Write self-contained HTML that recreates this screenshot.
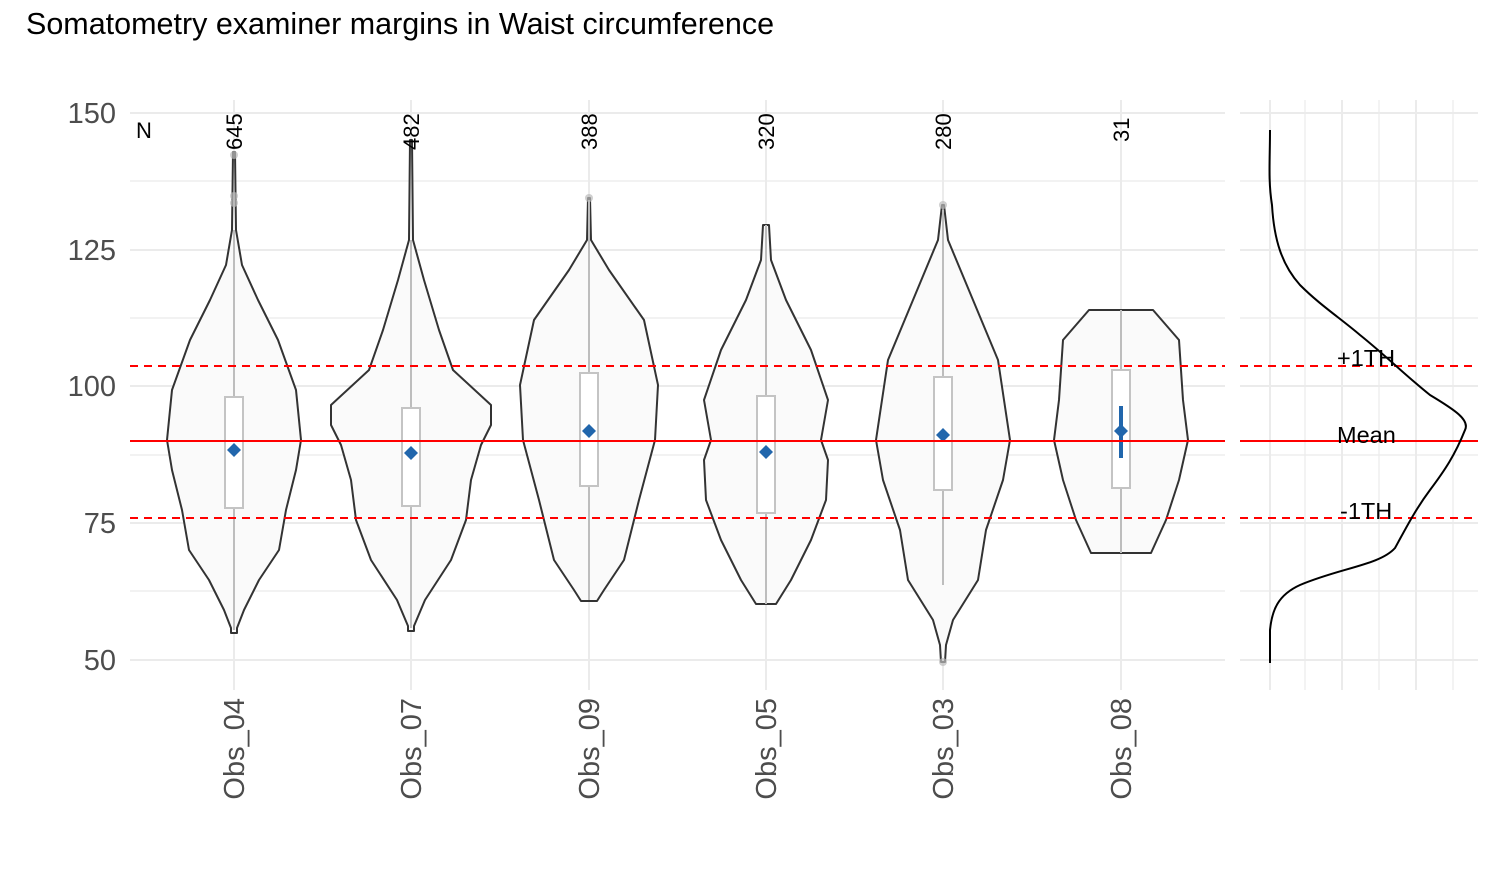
<!DOCTYPE html><html><head><style>body{margin:0;background:#fff}svg{display:block;font-family:"Liberation Sans",Arial,sans-serif}</style></head><body>
<svg width="1504" height="874" xmlns="http://www.w3.org/2000/svg">
<rect width="1504" height="874" fill="#fff"/>
<text x="26" y="34" font-size="30.5" fill="#000">Somatometry examiner margins in Waist circumference</text>
<g stroke="#ebebeb" stroke-width="1.2">
<line x1="130" x2="1225" y1="181" y2="181"/><line x1="130" x2="1225" y1="318" y2="318"/><line x1="130" x2="1225" y1="455" y2="455"/><line x1="130" x2="1225" y1="591" y2="591"/>
<line x1="1240" x2="1478" y1="181" y2="181"/><line x1="1240" x2="1478" y1="318" y2="318"/><line x1="1240" x2="1478" y1="455" y2="455"/><line x1="1240" x2="1478" y1="591" y2="591"/>
</g>
<g stroke="#ebebeb" stroke-width="2">
<line x1="130" x2="1225" y1="113" y2="113"/><line x1="130" x2="1225" y1="250" y2="250"/><line x1="130" x2="1225" y1="386" y2="386"/><line x1="130" x2="1225" y1="523" y2="523"/><line x1="130" x2="1225" y1="660" y2="660"/>
<line x1="1240" x2="1478" y1="113" y2="113"/><line x1="1240" x2="1478" y1="250" y2="250"/><line x1="1240" x2="1478" y1="386" y2="386"/><line x1="1240" x2="1478" y1="523" y2="523"/><line x1="1240" x2="1478" y1="660" y2="660"/>
<line x1="234" x2="234" y1="100" y2="690"/><line x1="411" x2="411" y1="100" y2="690"/><line x1="589" x2="589" y1="100" y2="690"/><line x1="766" x2="766" y1="100" y2="690"/><line x1="943" x2="943" y1="100" y2="690"/><line x1="1121" x2="1121" y1="100" y2="690"/>
<line x1="1270" x2="1270" y1="100" y2="690"/><line x1="1342" x2="1342" y1="100" y2="690"/><line x1="1416" x2="1416" y1="100" y2="690"/>
</g>
<g stroke="#ebebeb" stroke-width="1.2"><line x1="1305" x2="1305" y1="100" y2="690"/><line x1="1379" x2="1379" y1="100" y2="690"/><line x1="1453" x2="1453" y1="100" y2="690"/></g>
<g font-size="29" fill="#4d4d4d" text-anchor="end">
<text x="116" y="123">150</text><text x="116" y="260">125</text><text x="116" y="396">100</text><text x="116" y="533">75</text><text x="116" y="670">50</text>
</g>
<g fill="#fafafa" stroke="#333" stroke-width="2" stroke-linejoin="round">
<polygon points="233,152 232,230 226,265 210,300 190,340 172,390 167,440 172,470 182,510 189,550 209,580 224,610 231,628 231,633 237,633 237,628 244,610 259,580 279,550 286,510 296,470 301,440 296,390 278,340 258,300 242,265 236,230 235,152"/>
<polygon points="410,140 409,240 398,280 383,330 369,370 331,405 331,425 341,445 351,480 356,520 371,560 397,600 408,626 408,631 414,631 414,626 425,600 451,560 466,520 471,480 481,445 491,425 491,405 453,370 439,330 424,280 413,240 412,140"/>
<polygon points="588,198 587,240 569,270 534,320 520,385 523,440 539,500 554,560 574,590 581,601 597,601 604,590 624,560 639,500 655,440 658,385 644,320 609,270 591,240 590,198"/>
<polygon points="763,225 761,260 746,300 721,350 704,400 711,440 704,460 706,500 721,540 741,580 756,604 776,604 791,580 811,540 826,500 828,460 821,440 828,400 811,350 786,300 771,260 769,225"/>
<polygon points="942,205 938,240 913,300 888,360 876,440 883,480 900,530 908,580 933,620 940,645 941,662 945,662 946,645 953,620 978,580 986,530 1003,480 1010,440 998,360 973,300 948,240 944,205"/>
<polygon points="1089,310 1063,340 1059,400 1054,440 1063,480 1076,520 1091,553 1151,553 1166,520 1179,480 1188,440 1183,400 1179,340 1153,310"/>
</g>
<g stroke="#bdbdbd" stroke-width="2">
<line x1="234" x2="234" y1="230" y2="630"/><line x1="411" x2="411" y1="240" y2="628"/><line x1="589" x2="589" y1="200" y2="600"/><line x1="766" x2="766" y1="225" y2="604"/><line x1="943" x2="943" y1="210" y2="585"/><line x1="1121" x2="1121" y1="310" y2="553"/>
</g>
<g fill="#fff" stroke="#c4c4c4" stroke-width="2">
<rect x="225" y="397" width="18" height="111"/><rect x="402" y="408" width="18" height="98"/><rect x="580" y="373" width="18" height="113"/><rect x="757" y="396" width="18" height="117"/><rect x="934" y="377" width="18" height="113"/><rect x="1112" y="370" width="18" height="118"/>
</g>
<g fill="#bbb" opacity="0.7"><circle cx="234" cy="155" r="4"/><circle cx="234" cy="196" r="4"/><circle cx="234" cy="203" r="4"/><circle cx="589" cy="198" r="4"/><circle cx="943" cy="205" r="4"/><circle cx="943" cy="662" r="4"/></g>
<line x1="1121" x2="1121" y1="406" y2="458" stroke="#2166ac" stroke-width="4"/>
<g fill="#2166ac">
<polygon points="227,450 234,443 241,450 234,457"/><polygon points="404,453 411,446 418,453 411,460"/><polygon points="582,431 589,424 596,431 589,438"/><polygon points="759,452 766,445 773,452 766,459"/><polygon points="936,435 943,428 950,435 943,442"/><polygon points="1114,431 1121,424 1128,431 1121,438"/>
</g>
<g font-size="29" fill="#4d4d4d" text-anchor="end">
<text transform="translate(244,698) rotate(-90)">Obs_04</text><text transform="translate(421,698) rotate(-90)">Obs_07</text><text transform="translate(599,698) rotate(-90)">Obs_09</text><text transform="translate(776,698) rotate(-90)">Obs_05</text><text transform="translate(953,698) rotate(-90)">Obs_03</text><text transform="translate(1131,698) rotate(-90)">Obs_08</text>
</g>
<g font-size="22" fill="#000">
<text x="136" y="138">N</text>
<text transform="translate(242,150) rotate(-90)">645</text>
<text transform="translate(419,150) rotate(-90)">482</text>
<text transform="translate(597,150) rotate(-90)">388</text>
<text transform="translate(774,150) rotate(-90)">320</text>
<text transform="translate(951,150) rotate(-90)">280</text>
<text transform="translate(1129,142) rotate(-90)">31</text>
</g>
<g stroke="#ff0000" stroke-width="2">
<line x1="130" x2="1225" y1="441" y2="441"/><line x1="1240" x2="1478" y1="441" y2="441"/>
<line x1="130" x2="1225" y1="366" y2="366" stroke-dasharray="8,6"/><line x1="1240" x2="1478" y1="366" y2="366" stroke-dasharray="8,6"/>
<line x1="130" x2="1225" y1="518" y2="518" stroke-dasharray="8,6"/><line x1="1240" x2="1478" y1="518" y2="518" stroke-dasharray="8,6"/>
</g>
<path d="M1270,130 C1270,160 1268,180 1272,205 C1274,240 1282,265 1300,285 C1320,305 1340,318 1360,335 C1385,355 1405,375 1430,395 C1455,410 1470,420 1465,430 C1455,455 1445,470 1430,490 C1415,510 1405,530 1395,548 C1380,565 1340,568 1300,585 C1278,595 1272,610 1270,630 L1270,663" fill="none" stroke="#000" stroke-width="2"/>
<g font-size="23.5" fill="#000"><text x="1337" y="366">+1TH</text><text x="1337" y="443">Mean</text><text x="1340" y="519">-1TH</text></g>
</svg></body></html>
